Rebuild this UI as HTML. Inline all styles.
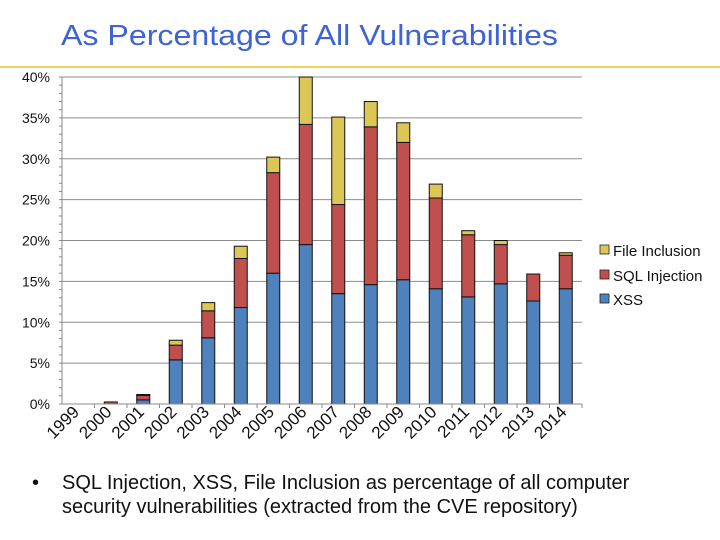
<!DOCTYPE html>
<html><head><meta charset="utf-8"><style>
body{margin:0;background:#fff;}
svg{display:block;font-family:"Liberation Sans",Arial,sans-serif;}
</style></head><body>
<svg id="c" width="720" height="540">
<text x="61" y="45" font-size="29" textLength="497" lengthAdjust="spacingAndGlyphs" fill="#3d63d4">As Percentage of All Vulnerabilities</text>
<rect x="0" y="66" width="720" height="2" fill="#f0d35a"/>
<g id="grid"></g><g id="bars"></g><g id="axes"></g>
<g>
<rect x="600" y="245" width="9" height="9" fill="#dcc656" stroke="#222" stroke-width="0.8"/>
<text x="613" y="256" font-size="15" fill="#111">File Inclusion</text>
<rect x="600" y="270" width="9" height="9" fill="#c0504d" stroke="#222" stroke-width="0.8"/>
<text x="613" y="281" font-size="15" fill="#111">SQL Injection</text>
<rect x="600" y="294" width="9" height="9" fill="#4f81bd" stroke="#222" stroke-width="0.8"/>
<text x="613" y="305" font-size="15" fill="#111">XSS</text>
</g>
<text x="32" y="489" font-size="20" fill="#111">•</text>
<text x="62" y="489" font-size="20" fill="#111">SQL Injection, XSS, File Inclusion as percentage of all computer</text>
<text x="62" y="513" font-size="20" fill="#111">security vulnerabilities (extracted from the CVE repository)</text>
</svg>
<script>
const categories=["1999","2000","2001","2002","2003","2004","2005","2006","2007","2008","2009","2010","2011","2012","2013","2014"];
const xss=[0,0,0.5,5.4,8.1,11.8,16.0,19.5,13.5,14.6,15.2,14.1,13.1,14.7,12.6,14.1];
const sql=[0,0.25,0.56,1.8,3.3,6.0,12.3,14.7,10.9,19.3,16.8,11.1,7.6,4.8,3.3,4.1];
const fileInc=[0,0,0.1,0.6,1.0,1.5,1.9,6.0,10.7,3.1,2.4,1.7,0.5,0.5,0,0.3];
const yTicks=[0,5,10,15,20,25,30,35,40];
const NS="http://www.w3.org/2000/svg";
const X0=62,X1=582,Y0=404,Y40=77,YMAX=40;
const slot=(X1-X0)/categories.length,bw=13;
function y(v){return Y0-(v/YMAX)*(Y0-Y40);}
function xc(i){return X0+slot*(i+0.5);}
function mk(t,a,p){const e=document.createElementNS(NS,t);for(const k in a)e.setAttribute(k,a[k]);p.appendChild(e);return e;}
const grid=document.getElementById('grid'),bars=document.getElementById('bars'),axes=document.getElementById('axes');
yTicks.forEach(t=>{
  if(t>0){const l=mk('line',{x1:X0,x2:X1,y1:y(t),y2:y(t),stroke:'#8c8c8c','stroke-width':1},grid);
  
  }
  const tx=mk('text',{x:50,y:y(t)+5,'font-size':14,'text-anchor':'end',fill:'#111'},axes);
  tx.textContent=t+'%';
  
  
});
for(let v=0;v<=YMAX;v++){mk('line',{x1:X0-3,x2:X0,y1:y(v),y2:y(v),stroke:'#888','stroke-width':1},axes);}
const ya=mk('line',{x1:X0,x2:X0,y1:Y40,y2:Y0,stroke:'#888'},axes);


const xa=mk('line',{x1:X0,x2:X1,y1:Y0,y2:Y0,stroke:'#888'},axes);


categories.forEach((c,i)=>{
  mk('line',{x1:X0+slot*(i+1),x2:X0+slot*(i+1),y1:Y0,y2:Y0+4,stroke:'#888'},axes);
  const cx=xc(i);
  let base=0;
  [[xss[i],'#4f81bd','xss'],[sql[i],'#c0504d','sql-injection'],[fileInc[i],'#dcc656','file-inclusion']].forEach(([v,col,n])=>{
    if(v<=0)return;
    const top=Math.min(base+v,YMAX);
    const r=mk('rect',{x:cx-bw/2,y:y(top),width:bw,height:y(base)-y(top),fill:col,stroke:'#111','stroke-width':1},bars);
    
    
    base+=v;
  });
  const ax=cx+2,ay=Y0+9;
  const t=mk('text',{x:ax,y:ay,'font-size':17,'text-anchor':'end',fill:'#111',transform:`rotate(-45 ${ax} ${ay})`},axes);
  t.textContent=c;
  
  
});
</script>
</body></html>
